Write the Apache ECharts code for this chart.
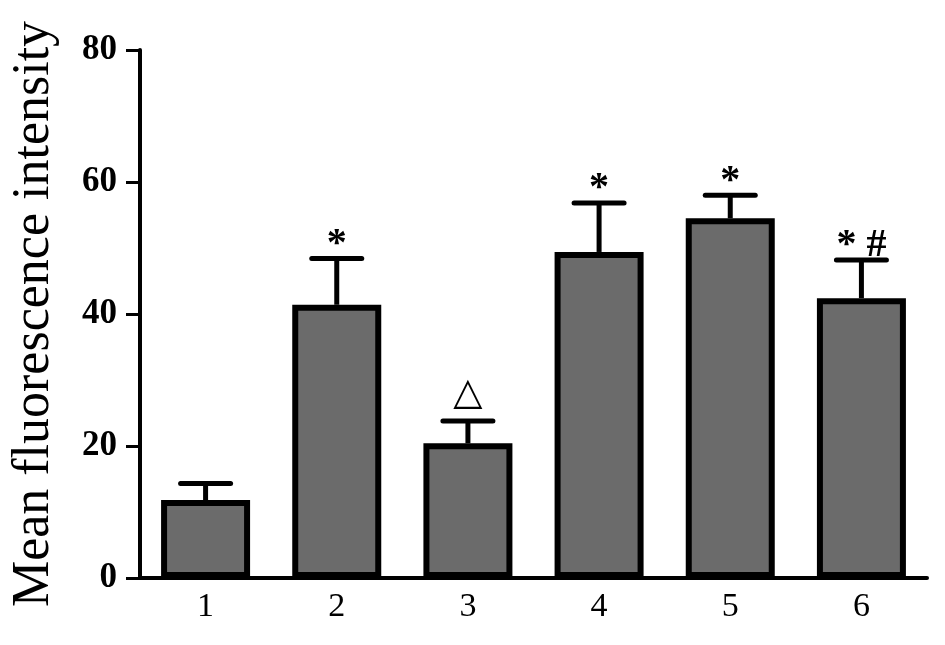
<!DOCTYPE html>
<html>
<head>
<meta charset="utf-8">
<script src="https://cdn.jsdelivr.net/npm/echarts@6/dist/echarts.min.js"></script>
<style>
  html, body { margin: 0; padding: 0; background: #fff; }
  #main { width: 945px; height: 645px; }
</style>
</head>
<body>
<div id="main"></div>
<script>
// data
var groups = ['1', '2', '3', '4', '5', '6'];
var means = [11.8, 41.4, 20.4, 49.4, 54.5, 42.4];
var errs = [2.5, 7.0, 3.4, 7.4, 3.5, 5.8];
var marks = ['', '*', '\u25B3', '*', '*', '* #'];
var yTicks = [0, 20, 40, 60, 80];

var serif = '"Liberation Serif", "DejaVu Serif", serif';

var errData = [];
for (var i = 0; i < groups.length; i++) {
    errData.push([i, means[i], means[i] + errs[i]]);
}

var chart = echarts.init(document.getElementById('main'));

chart.setOption({
    animation: false,
    grid: { left: 136, right: 18, top: 50, bottom: 67 },
    xAxis: {
        type: 'category',
        data: groups,
        axisLine: { lineStyle: { color: '#000', width: 4 } },
        axisTick: { alignWithLabel: true, length: 12, lineStyle: { color: '#000', width: 3 } },
        axisLabel: { color: '#000', fontFamily: serif, fontSize: 34, margin: 12 }
    },
    yAxis: {
        type: 'value',
        min: yTicks[0],
        max: yTicks[yTicks.length - 1],
        interval: 20,
        name: 'Mean fluorescence intensity',
        nameLocation: 'middle',
        nameRotate: 90,
        nameGap: 80,
        nameTextStyle: { color: '#000', fontFamily: serif, fontSize: 52 },
        axisLine: { show: true, lineStyle: { color: '#000', width: 4 } },
        axisTick: { show: true, length: 14, lineStyle: { color: '#000', width: 3 } },
        axisLabel: { color: '#000', fontFamily: serif, fontSize: 35, fontWeight: 'bold', margin: 23 },
        splitLine: { show: false }
    },
    series: [
        {
            type: 'bar',
            data: means,
            barWidth: 89,
            itemStyle: { color: '#6b6b6b', borderColor: '#000', borderWidth: 6 }
        },
        {
            type: 'custom',
            data: errData,
            z: 5,
            renderItem: function (params, api) {
                var idx = api.value(0);
                var base = api.coord([idx, api.value(1)]);
                var top = api.coord([idx, api.value(2)]);
                var half = 25;
                var style = { stroke: '#000', lineWidth: 5, lineCap: 'round' };
                var kids = [
                    { type: 'line', shape: { x1: top[0], y1: base[1], x2: top[0], y2: top[1] }, style: { stroke: '#000', lineWidth: 5 } },
                    { type: 'line', shape: { x1: top[0] - half, y1: top[1], x2: top[0] + half, y2: top[1] }, style: style }
                ];
                var m = marks[params.dataIndex];
                if (m) {
                    var tri = m === '\u25B3';
                    kids.push({
                        type: 'text',
                        style: {
                            text: m,
                            x: top[0],
                            y: tri ? top[1] - 8 : top[1] + 6,
                            align: 'center',
                            verticalAlign: 'bottom',
                            fill: '#000',
                            font: tri ? '38px "DejaVu Sans"' : 'bold 40px ' + serif
                        }
                    });
                }
                return { type: 'group', children: kids };
            }
        }
    ]
});
</script>
</body>
</html>
